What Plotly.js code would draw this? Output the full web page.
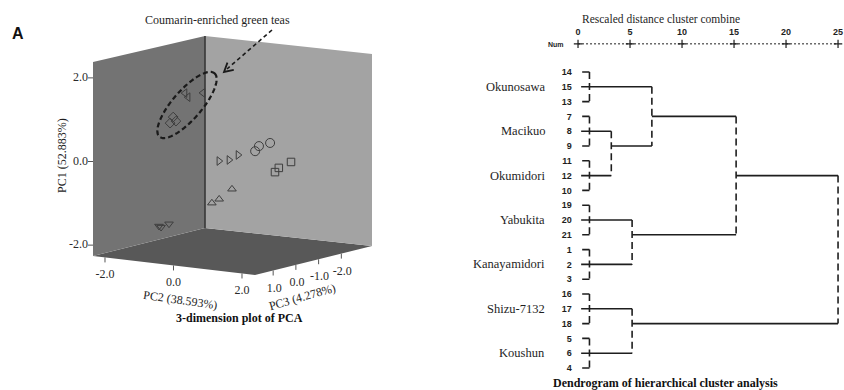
<!DOCTYPE html>
<html><head><meta charset="utf-8">
<script src="https://cdn.plot.ly/plotly-3.0.1.min.js"></script>
<style>html,body{margin:0;padding:0;background:#fff}#chart{width:844px;height:390px}</style>
</head><body><div id="chart"></div>
<script>
// ---------------- Panel A : PCA scores (3 samples per cultivar) ----------------
const groupNames   = ['Shizu-7132','Koushun','Okunosawa','Macikuo','Okumidori','Yabukita','Kanayamidori'];
const groupSymbols = ['diamond-open','triangle-left-open','triangle-right-open','circle-open','square-open','triangle-up-open','triangle-down-open'];
const pc1Scores = [[0.91,1.06,0.97],[1.65,1.56,1.69],[-0.13,-0.08,0.06],[0.19,0.32,0.42],[-0.33,-0.22,-0.05],[-1.07,-0.96,-0.69],[-1.66,-1.68,-1.58]];
const pc2Scores = [[-0.75,-0.66,-0.58],[-0.32,-0.23,0.20],[-0.29,0.00,0.26],[0.75,0.86,1.18],[1.05,1.16,1.51],[-0.22,-0.01,0.36],[-1.41,-1.35,-1.12]];
const pc3Scores = [[0.79,0.79,0.79],[0.79,0.79,0.79],[-0.70,-0.70,-0.70],[-0.70,-0.70,-0.70],[-1.12,-1.12,-1.12],[-0.27,-0.27,-0.27],[0.26,0.26,0.26]];
const pc1Range = [-2.26, 2.38], pc2Range = [-2.35, 2.38], pc3Range = [-3.35, 1.8];
const pc1Ticks = [-2, 0, 2], pc2Ticks = [-2, 0, 2], pc3Ticks = [-2, -1, 0, 1];
const pc1Title = 'PC1 (52.883%)', pc2Title = 'PC2 (38.593%)', pc3Title = 'PC3 (4.278%)';

// ---------------- Panel B : dendrogram ----------------
const cultivars  = ['Okunosawa','Macikuo','Okumidori','Yabukita','Kanayamidori','Shizu-7132','Koushun'];
const leafNums   = [14,15,13, 7,8,9, 11,12,10, 19,20,21, 1,2,3, 16,17,18, 5,6,4];
const withinDist = 1.1;
const mergeA     = ['Macikuo','Okunosawa','Yabukita','M2','Shizu-7132','M4'];
const mergeB     = ['Okumidori','M1','Kanayamidori','M3','Koushun','M5'];
const mergeDist  = [3.2, 7.1, 5.2, 15.2, 5.2, 25];
const mergeRow   = [5, 3, 11, 7, 17, 12];
const distTicks  = [0, 5, 10, 15, 20, 25];

const W = 844, H = 390;
const PX = x => x / W, PY = y => 1 - y / H;
const serif = 'Liberation Serif, Times New Roman, serif';
const narrow = 'Liberation Sans Narrow, Liberation Sans, Arial, sans-serif';
const ink = '#1e1e1e';

// ---- box geometry of the 3D view (screen pixels of the box corners; b = PC1 min, t = PC1 max)
const box = {
  Bb: [205, 228], Lb: [93, 256], Fb: [255, 275], Rb: [372, 246],
  Bt: [205, 36],  Lt: [93, 62],  Ft: [255, 73],  Rt: [372, 54]
};
const norm = (v, r) => (v - r[0]) / (r[1] - r[0]);
function proj(pc1, pc2, pc3) {
  const u1 = norm(pc1, pc1Range), u2 = norm(pc2, pc2Range), u3 = norm(pc3, pc3Range);
  const bil = (B, R, L, F, k) => B[k] * (1 - u2) * (1 - u3) + R[k] * u2 * (1 - u3) + L[k] * (1 - u2) * u3 + F[k] * u2 * u3;
  const p = k => bil(box.Bb, box.Rb, box.Lb, box.Fb, k) * (1 - u1) + bil(box.Bt, box.Rt, box.Lt, box.Ft, k) * u1;
  return [p(0), p(1)];
}
const poly = (pts, color) => ({type: 'scatter', mode: 'lines', x: pts.map(p => p[0]).concat([pts[0][0]]),
  y: pts.map(p => p[1]).concat([pts[0][1]]), fill: 'toself', fillcolor: color, line: {width: 0, color: color},
  hoverinfo: 'skip', showlegend: false});

const traces = [
  poly([box.Bb, box.Lb, box.Fb, box.Rb], '#585858'),
  poly([box.Bb, box.Lb, box.Lt, box.Bt], '#737373'),
  poly([box.Bb, box.Rb, box.Rt, box.Bt], '#a3a3a3'),
  {type: 'scatter', mode: 'lines', x: [box.Bb[0], box.Bt[0]], y: [box.Bb[1], box.Bt[1]],
   line: {color: '#383838', width: 1.6}, hoverinfo: 'skip', showlegend: false}
];
// tick marks and tick labels
const tx = [], ty = [], lx = [], ly = [], lt = [];
pc2Ticks.forEach(v => { const p = proj(pc1Range[0], v, pc3Range[1]); tx.push(p[0], p[0], null); ty.push(p[1], p[1] + 5, null);
  lx.push(p[0]); ly.push(p[1] + 18); lt.push(v.toFixed(1)); });
pc3Ticks.forEach(v => { const p = proj(pc1Range[0], pc2Range[1], v); tx.push(p[0], p[0], null); ty.push(p[1], p[1] + 5, null);
  lx.push(p[0] + 1); ly.push(p[1] + 18); lt.push(v.toFixed(1)); });
traces.push({type: 'scatter', mode: 'lines', x: tx, y: ty, line: {color: '#555', width: 1}, hoverinfo: 'skip', showlegend: false});
traces.push({type: 'scatter', mode: 'text', x: lx, y: ly, text: lt, textposition: 'middle center', cliponaxis: false,
  textfont: {family: serif, size: 12, color: '#2a2a2a'}, hoverinfo: 'skip', showlegend: false});
const zx = [], zy = [], zlx = [], zly = [], zlt = [];
pc1Ticks.forEach(v => { const p = proj(v, pc2Range[0], pc3Range[1]); zx.push(p[0], p[0] - 5, null); zy.push(p[1], p[1], null);
  zlx.push(p[0] - 5); zly.push(p[1]); zlt.push(v.toFixed(1)); });
traces.push({type: 'scatter', mode: 'lines', x: zx, y: zy, line: {color: '#555', width: 1}, hoverinfo: 'skip', showlegend: false});
traces.push({type: 'scatter', mode: 'text', x: zlx, y: zly, text: zlt, textposition: 'middle left', cliponaxis: false,
  textfont: {family: serif, size: 12, color: '#2a2a2a'}, hoverinfo: 'skip', showlegend: false});
// score points
groupNames.forEach((name, g) => {
  const pts = pc1Scores[g].map((v, i) => proj(v, pc2Scores[g][i], pc3Scores[g][i]));
  traces.push({type: 'scatter', mode: 'markers', name, x: pts.map(p => p[0]), y: pts.map(p => p[1]),
    marker: {symbol: groupSymbols[g], size: groupSymbols[g] === 'circle-open' ? 9 : 7.5, color: '#3e3e3e', line: {color: '#3e3e3e', width: 1}},
    hoverinfo: 'skip', showlegend: false});
});

// ---- dendrogram segments
const hx = [], hy = [], vx = [], vy = [];
const nodeRow = {}, nodeDist = {};
cultivars.forEach((c, i) => {
  const top = 3 * i, bot = 3 * i + 2;
  hx.push(0.4, withinDist, null, 0.4, withinDist, null); hy.push(top, top, null, bot, bot, null);
  vx.push(withinDist, withinDist, null); vy.push(top, bot, null);
  nodeRow[c] = 3 * i + 1; nodeDist[c] = 0.3;
});
mergeA.forEach((a, k) => {
  const b = mergeB[k], d = mergeDist[k];
  [a, b].forEach(n => { hx.push(nodeDist[n], d, null); hy.push(nodeRow[n], nodeRow[n], null); });
  vx.push(d, d, null); vy.push(nodeRow[a], nodeRow[b], null);
  nodeRow['M' + (k + 1)] = mergeRow[k]; nodeDist['M' + (k + 1)] = d;
});
const d2 = {xaxis: 'x2', yaxis: 'y2', cliponaxis: false, hoverinfo: 'skip', showlegend: false};
traces.push(Object.assign({type: 'scatter', mode: 'lines', x: hx, y: hy, line: {color: ink, width: 1.6}}, d2));
traces.push(Object.assign({type: 'scatter', mode: 'lines', x: vx, y: vy, line: {color: ink, width: 1.6, dash: '7px,4px'}}, d2));
const scaleRow = -1.9;
traces.push(Object.assign({type: 'scatter', mode: 'lines', x: [distTicks[0], distTicks[distTicks.length - 1]], y: [scaleRow, scaleRow],
  line: {color: ink, width: 1, dash: '2px,2px'}}, d2));
traces.push(Object.assign({type: 'scatter', mode: 'markers', x: distTicks, y: distTicks.map(() => scaleRow),
  marker: {symbol: 'cross-thin-open', size: 6, color: ink, line: {color: ink, width: 1.2}}}, d2));

// ---- shapes: dashed ellipse + dashed arrow
function ellipsePath(cx, cy, a, b, angDeg, n) {
  const t = angDeg * Math.PI / 180; let p = '';
  for (let i = 0; i <= n; i++) {
    const s = 2 * Math.PI * i / n;
    const x = cx + a * Math.cos(s) * Math.cos(t) - b * Math.sin(s) * Math.sin(t);
    const y = cy + a * Math.cos(s) * Math.sin(t) + b * Math.sin(s) * Math.cos(t);
    p += (i ? ' L ' : 'M ') + PX(x).toFixed(5) + ',' + PY(y).toFixed(5);
  }
  return p + ' Z';
}
const tail = [272, 30], tip = [224, 72];
const ang = Math.atan2(tail[1] - tip[1], tail[0] - tip[0]);
const hl = 10, ha = 0.5;
const h1 = [tip[0] + hl * Math.cos(ang + ha), tip[1] + hl * Math.sin(ang + ha)];
const h2 = [tip[0] + hl * Math.cos(ang - ha), tip[1] + hl * Math.sin(ang - ha)];
const shapes = [
  {type: 'path', xref: 'paper', yref: 'paper', layer: 'above', path: ellipsePath(187, 105, 42, 14.5, -49, 80),
   line: {color: '#1a1a1a', width: 2.2, dash: '5px,3px'}},
  {type: 'line', xref: 'paper', yref: 'paper', layer: 'above', x0: PX(tail[0]), y0: PY(tail[1]), x1: PX(tip[0] + 3), y1: PY(tip[1] - 3),
   line: {color: '#1a1a1a', width: 1.6, dash: '4px,3px'}},
  {type: 'path', xref: 'paper', yref: 'paper', layer: 'above',
   path: `M ${PX(h1[0])},${PY(h1[1])} L ${PX(tip[0])},${PY(tip[1])} L ${PX(h2[0])},${PY(h2[1])}`,
   line: {color: '#1a1a1a', width: 1.8}}
];

// ---- annotations
const ann = (text, x, y, o = {}) => Object.assign({text, x: PX(x), y: PY(y), xref: 'paper', yref: 'paper', showarrow: false,
  xanchor: 'center', yanchor: 'middle', font: {family: serif, size: 12, color: ink}}, o);
const annotations = [
  ann('<b>A</b>', 18, 33, {font: {family: 'Liberation Sans, Arial, sans-serif', size: 16, color: '#111'}}),
  ann('Coumarin-enriched green teas', 217, 20, {font: {family: serif, size: 12, color: ink}}),
  ann(pc1Title, 62, 155, {textangle: -90}),
  ann(pc2Title, 180, 300, {textangle: 8}),
  ann(pc3Title, 302, 297, {textangle: -16}),
  ann('<b>3-dimension plot of PCA</b>', 239, 318, {font: {family: serif, size: 12, color: '#111'}}),
  ann('Rescaled distance cluster combine', 661, 19, {font: {family: serif, size: 11.5, color: ink}}),
  ann('<b>Num</b>', 556, 44, {font: {family: narrow, size: 7, color: ink}}),
  ann('<b>Dendrogram of hierarchical cluster analysis</b>', 665, 383, {font: {family: serif, size: 12, color: '#111'}})
];
cultivars.forEach((c, i) => annotations.push({text: c, x: PX(547), xref: 'paper', xanchor: 'right', yanchor: 'middle',
  y: 3 * i + 1, yref: 'y2', showarrow: false, font: {family: serif, size: 12.5, color: ink}}));

const hidden = {showgrid: false, zeroline: false, showline: false, showticklabels: false, ticks: ''};
const layout = {
  width: W, height: H, margin: {l: 0, r: 0, t: 0, b: 0},
  paper_bgcolor: '#fff', plot_bgcolor: 'rgba(0,0,0,0)', showlegend: false,
  font: {family: serif, color: ink},
  xaxis: Object.assign({domain: [0, 1], range: [0, W], anchor: 'y'}, hidden),
  yaxis: Object.assign({domain: [0, 1], range: [H, 0], anchor: 'x'}, hidden),
  xaxis2: {domain: [0.6787, 0.9991], range: [-0.5, 25.5], anchor: 'y2', side: 'top', tickvals: distTicks,
    showgrid: false, zeroline: false, showline: false, ticks: '', ticklabelstandoff: 3,
    tickfont: {family: narrow, size: 9, weight: 'bold', color: ink}},
  yaxis2: {domain: [0.01846, 0.89513], range: [21, -2.1], anchor: 'x2', tickvals: leafNums.map((_, i) => i),
    ticktext: leafNums.map(String), showgrid: false, zeroline: false, showline: false, ticks: '',
    tickfont: {family: narrow, size: 9, weight: 'bold', color: ink}},
  shapes, annotations
};
Plotly.newPlot('chart', traces, layout, {staticPlot: true, displayModeBar: false});
</script></body></html>
